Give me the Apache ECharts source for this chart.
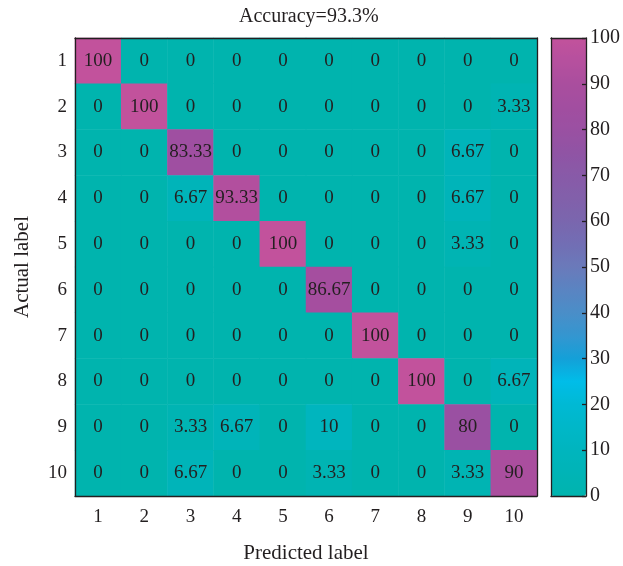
<!DOCTYPE html>
<html>
<head>
<meta charset="utf-8">
<script src="https://cdn.jsdelivr.net/npm/echarts@6/dist/echarts.min.js"></script>
<style>html,body{margin:0;padding:0;background:#fff}#c{width:623px;height:566px}</style>
</head>
<body>
<div id="c"></div>
<script>
var predicted = ['1','2','3','4','5','6','7','8','9','10'];
var actual = ['1','2','3','4','5','6','7','8','9','10'];
var matrix = [
  [100,0,0,0,0,0,0,0,0,0],
  [0,100,0,0,0,0,0,0,0,3.33],
  [0,0,83.33,0,0,0,0,0,6.67,0],
  [0,0,6.67,93.33,0,0,0,0,6.67,0],
  [0,0,0,0,100,0,0,0,3.33,0],
  [0,0,0,0,0,86.67,0,0,0,0],
  [0,0,0,0,0,0,100,0,0,0],
  [0,0,0,0,0,0,0,100,0,6.67],
  [0,0,3.33,6.67,0,10,0,0,80,0],
  [0,0,6.67,0,0,3.33,0,0,3.33,90]
];
// colormap stops, every 5 units from 0 to 100
var colorStops = ['#00b4ae','#00b4b6','#00b5be','#00b7c8','#00b9d4','#00bde8','#14a0d8','#3496d0','#4a8ec8','#5a84c2','#6a7aba','#726eb4','#7a66ae','#8260aa','#885aa8','#9054a4','#9a50a2','#a24ea0','#aa4e9e','#b6509e','#c2529c'];
var title = 'Accuracy=93.3%';

var data = [];
for (var r = 0; r < matrix.length; r++) {
  for (var c = 0; c < matrix[r].length; c++) {
    data.push([c, r, matrix[r][c]]);
  }
}
var FONT = 'Liberation Serif';
var TXT = '#231f20';
var chart = echarts.init(document.getElementById('c'), null, {renderer: 'canvas'});
var lineStyle = {color: '#231f20', width: 1.3};
chart.setOption({
  animation: false,
  textStyle: {fontFamily: FONT, color: TXT},
  title: {text: title, left: 234, top: 2,
    textStyle: {fontFamily: FONT, fontSize: 20, fontWeight: 'normal', color: TXT}},
  grid: [
    {left: 75, right: 86, top: 38, bottom: 70, outerBoundsMode: 'none', containLabel: false},
    {left: 551, width: 35, top: 38, bottom: 70, outerBoundsMode: 'none', containLabel: false}
  ],
  xAxis: [
    {type: 'category', data: predicted, gridIndex: 0, position: 'bottom',
      name: 'Predicted label', nameLocation: 'middle', nameGap: 47,
      nameTextStyle: {fontFamily: FONT, fontSize: 21, color: TXT},
      axisLine: {lineStyle: lineStyle}, axisTick: {inside: true, alignWithLabel: true, length: 5, lineStyle: lineStyle},
      axisLabel: {fontFamily: FONT, fontSize: 19, color: TXT, margin: 12}, splitLine: {show: false}, z: 10},
    {type: 'category', data: predicted, gridIndex: 0, position: 'top',
      axisLine: {lineStyle: lineStyle}, axisTick: {inside: true, alignWithLabel: true, length: 5, lineStyle: lineStyle},
      axisLabel: {show: false}, z: 10},
    {type: 'value', gridIndex: 1, position: 'bottom', min: 0, max: 1,
      axisLine: {show: true, onZero: false, lineStyle: lineStyle}, axisTick: {show: false}, axisLabel: {show: false}, splitLine: {show: false}, z: 10},
    {type: 'value', gridIndex: 1, position: 'top', min: 0, max: 1,
      axisLine: {show: true, onZero: false, lineStyle: lineStyle}, axisTick: {show: false}, axisLabel: {show: false}, splitLine: {show: false}, z: 10}
  ],
  yAxis: [
    {type: 'category', data: actual, inverse: true, gridIndex: 0, position: 'left',
      name: 'Actual label', nameLocation: 'middle', nameGap: 42, nameRotate: 90,
      nameTextStyle: {fontFamily: FONT, fontSize: 21, color: TXT},
      axisLine: {lineStyle: lineStyle}, axisTick: {inside: true, alignWithLabel: true, length: 5, lineStyle: lineStyle},
      axisLabel: {fontFamily: FONT, fontSize: 19, color: TXT, margin: 8}, z: 10},
    {type: 'category', data: actual, inverse: true, gridIndex: 0, position: 'right',
      axisLine: {lineStyle: lineStyle}, axisTick: {inside: true, alignWithLabel: true, length: 5, lineStyle: lineStyle},
      axisLabel: {show: false}, z: 10},
    {type: 'value', gridIndex: 1, position: 'right', min: 0, max: 100, interval: 10,
      axisLine: {show: true, onZero: false, lineStyle: lineStyle},
      axisTick: {show: true, inside: true, length: 4, lineStyle: lineStyle},
      axisLabel: {fontFamily: FONT, fontSize: 20, color: TXT, margin: 4}, splitLine: {show: false}, z: 10},
    {type: 'value', gridIndex: 1, position: 'left', min: 0, max: 100, interval: 10,
      axisLine: {show: true, onZero: false, lineStyle: lineStyle},
      axisTick: {show: false}, axisLabel: {show: false}, splitLine: {show: false}, z: 10}
  ],
  visualMap: {
    type: 'continuous', min: 0, max: 100, seriesIndex: 0, calculable: false, hoverLink: false,
    orient: 'vertical', left: 551, top: 38, itemWidth: 35, itemHeight: 458, padding: 0,
    text: null,
    inRange: {color: colorStops}
  },
  series: [{
    type: 'heatmap', xAxisIndex: 0, yAxisIndex: 0, data: data,
    label: {show: true, fontFamily: FONT, fontSize: 19, color: TXT,
      formatter: function (p) { return String(p.value[2]); }},
    itemStyle: {borderWidth: 0}
  }]
});
</script>
</body>
</html>
